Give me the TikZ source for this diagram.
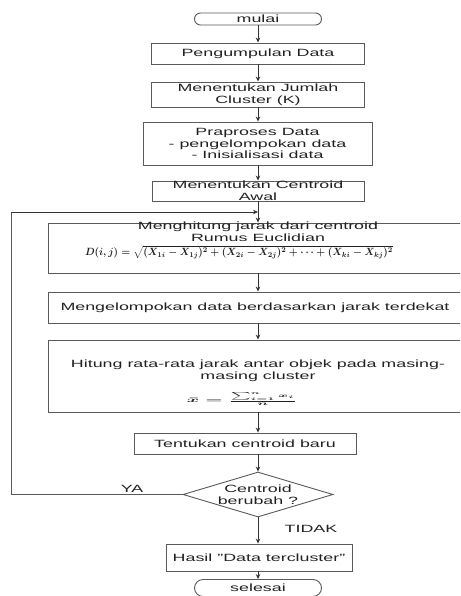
\documentclass[tikz,border=0pt]{standalone}
\usepackage[no-math]{fontspec}
\setmainfont{Liberation Sans}[FakeStretch=1.7]
\usepackage{graphicx}
\usetikzlibrary{arrows.meta,shapes.geometric,shapes.misc}
\definecolor{linec}{HTML}{5A5A5A}
\definecolor{arrc}{HTML}{333333}
\definecolor{txtc}{HTML}{222222}
\newcommand{\fs}{\fontsize{10.5}{11.7}\selectfont}
\tikzset{
  box/.style={draw=linec, line width=0.9pt, rectangle, inner sep=0pt, align=center, font=\fs, text=txtc},
  term/.style={draw=linec, line width=0.9pt, rounded rectangle, inner sep=0pt, font=\fs, text=txtc},
  dec/.style={draw=linec, line width=0.9pt, diamond, inner sep=0pt, aspect=3.33, align=center, font=\fs, text=txtc},
  arr/.style={draw=arrc, line width=0.9pt, -{Stealth[length=5pt,width=4.5pt]}},
  lin/.style={draw=linec, line width=0.9pt},
  lbl/.style={inner sep=0pt, font=\fs, text=txtc, align=center},
}
\begin{document}
\begin{tikzpicture}[x=1pt,y=-1pt]
\useasboundingbox (0,0) rectangle (460,596);
\fill[white] (0,0) rectangle (460,596);
\clip (0,0) rectangle (460,596);
\coordinate (col) at (258,0);
% nodes
\node[term, minimum width=127pt, minimum height=12pt] (mulai) at (258,19) {mulai};
\node[box, minimum width=213pt, minimum height=21pt] (kumpul) at (258,53.5) {Pengumpulan Data};
\node[box, minimum width=213pt, minimum height=25pt] (jumlah) at (258,94.5) {Menentukan Jumlah\\Cluster (K)};
\node[box, minimum width=229pt, minimum height=43pt] (prapro) at (257.5,143.5) {Praproses Data\\- pengelompokan data\\- Inisialisasi data};
\node[box, minimum width=212pt, minimum height=20pt] (awal) at (258,191) {Menentukan Centroid\\Awal};
\node[box, minimum width=414pt, minimum height=50pt] (jarak) at (255,248) {};
\node[lbl] (jaraktxt) at (258,232) {Menghitung jarak dari centroid\\Rumus Euclidian};
\node[inner sep=0pt, text=txtc] (rumus1) at (239,252.5) {\resizebox*{308pt}{13pt}{\boldmath$D(i,j)=\sqrt{(X_{1i}-X_{1j})^2+(X_{2i}-X_{2j})^2+\cdots+(X_{ki}-X_{kj})^2}$}};
\node[box, minimum width=414pt, minimum height=31pt] (kelompok) at (255,307.5) {Mengelompokan data berdasarkan jarak terdekat};
\node[box, minimum width=414pt, minimum height=72pt] (rata) at (255,376) {};
\node[lbl] (ratatxt) at (258,370.5) {Hitung rata-rata jarak antar objek pada masing-\\masing cluster};
\node[inner sep=0pt, text=txtc] (rumus2) at (242,399) {\resizebox*{110pt}{13pt}{\boldmath$\bar{x}=\frac{\sum_{i=1}^{n}x_i}{n}$}};
\node[box, minimum width=222pt, minimum height=21pt] (baru) at (245,443.5) {Tentukan centroid baru};
\node[dec, minimum width=150pt, minimum height=45pt] (cek) at (258,494.5) {Centroid\\berubah ?};
\node[box, minimum width=186pt, minimum height=27pt] (hasil) at (259,557.5) {Hasil "Data tercluster"};
\node[term, minimum width=127pt, minimum height=17pt] (selesai) at (258,588) {selesai};
\node[lbl] (ya) at (132,489) {YA};
\node[lbl] (tidak) at (311,529) {TIDAK};
% feedback coordinates
\coordinate (lb) at (11,494.5);
\coordinate (lt) at (11,212);
\coordinate (join) at (258,212);
% connectors
\draw[arr] (mulai.south -| col) -- (kumpul.north -| col);
\draw[arr] (kumpul.south -| col) -- (jumlah.north -| col);
\draw[arr] (jumlah.south -| col) -- (prapro.north -| col);
\draw[arr] (prapro.south -| col) -- (awal.north -| col);
\draw[arr] (awal.south -| col) -- (jarak.north -| col);
\draw[arr] (jarak.south -| col) -- (kelompok.north -| col);
\draw[arr] (kelompok.south -| col) -- (rata.north -| col);
\draw[arr] (rata.south -| col) -- (baru.north -| col);
\draw[arr] (baru.south -| col) -- (cek.north);
\draw[arr] (cek.south) -- (hasil.north -| cek.south);
\draw[arr] (hasil.south -| col) -- (selesai.north -| col);
\draw[lin] (cek.west) -- (lb) -- (lt);
\draw[arr] (lt) -- (join);
\end{tikzpicture}
\end{document}
